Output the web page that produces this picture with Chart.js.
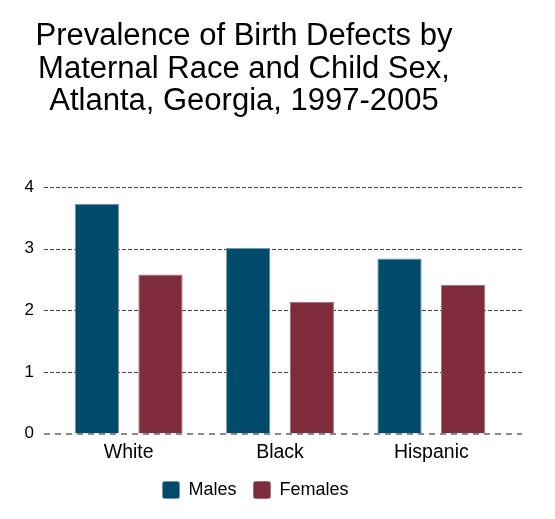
<!DOCTYPE html>
<html>
<head>
<meta charset="utf-8">
<script src="https://cdn.jsdelivr.net/npm/chart.js@4/dist/chart.umd.min.js"></script>
<style>
  html, body { margin:0; padding:0; background:#fff; }
  #wrap { position:relative; width:555px; height:519px; }
  #title {
    position:absolute; left:0; top:19px; width:488px;
    text-align:center; font:31px/32.5px "Liberation Sans", Arial, sans-serif; color:#000;
  }
  canvas { position:absolute; left:0; top:0; }
</style>
</head>
<body>
<div id="wrap">
  <canvas id="chart" width="555" height="519"></canvas>
  <div id="title">Prevalence of Birth Defects by<br>Maternal Race and Child Sex,<br>Atlanta, Georgia, 1997-2005</div>
</div>
<script>
/* data */
const categories = ["White", "Black", "Hispanic"];
const males      = [3.73, 3.01, 2.84];
const females    = [2.58, 2.14, 2.41];
const yTicks     = [0, 1, 2, 3, 4];

const FONT = "'Liberation Sans', Arial, sans-serif";

/* dashed gridlines wider than the plot area, zero line on top of bars */
const gridPlugin = {
  id: "dashGrid",
  afterLayout(chart){
    // nudge the legend up/right a little, closer to the x labels
    const lg = chart.legend;
    lg.top -= 7; lg.bottom -= 7;
    lg.left += 2; lg.right += 2;
  },
  beforeDatasetsDraw(chart){
    const {ctx} = chart, y = chart.scales.y;
    ctx.save();
    ctx.strokeStyle = "#444";
    ctx.lineWidth = 1;
    ctx.setLineDash([4, 2]);
    yTicks.forEach(v => {
      if (v === 0) return;
      const py = Math.round(y.getPixelForValue(v)) + 0.5;
      ctx.beginPath(); ctx.moveTo(44, py); ctx.lineTo(522, py); ctx.stroke();
    });
    ctx.restore();
  },
  afterDatasetsDraw(chart){
    const {ctx} = chart, y = chart.scales.y;
    ctx.save();
    ctx.strokeStyle = "#8a8a8a";
    ctx.lineWidth = 2;
    ctx.setLineDash([6, 5]);
    const py = Math.round(y.getPixelForValue(0));
    ctx.beginPath(); ctx.moveTo(44, py); ctx.lineTo(522, py); ctx.stroke();
    ctx.restore();
  }
};

new Chart(document.getElementById("chart"), {
  type: "bar",
  data: {
    labels: categories,
    datasets: [
      { label: "Males", data: males, backgroundColor: "#004A6B", borderColor: "#6f97ad", borderWidth: 1,
        categoryPercentage: 0.841, barPercentage: 0.696 },
      { label: "Females", data: females, backgroundColor: "#7E2B3B", borderColor: "#a8707b", borderWidth: 1,
        categoryPercentage: 0.841, barPercentage: 0.696 }
    ]
  },
  options: {
    responsive: false,
    animation: false,
    layout: { padding: { top: 187, right: 48, bottom: 3, left: 0 } },
    plugins: {
      title: { display: false },
      tooltip: { enabled: false },
      legend: {
        position: "bottom",
        labels: {
          boxWidth: 17, boxHeight: 17, padding: 17,
          useBorderRadius: true, borderRadius: 2,
          color: "#000", font: { family: FONT, size: 18 }
        }
      }
    },
    scales: {
      x: {
        grid: { display: false, drawTicks: false },
        border: { display: false },
        ticks: { color: "#000", padding: 7, font: { family: FONT, size: 19.5 } }
      },
      y: {
        min: 0, max: 4,
        afterFit(s){ s.width = 53; },
        afterBuildTicks(s){ s.ticks = yTicks.map(v => ({ value: v })); },
        grid: { display: false, drawTicks: false },
        border: { display: false },
        ticks: { color: "#000", padding: 19, font: { family: FONT, size: 17 } }
      }
    }
  },
  plugins: [gridPlugin]
});
</script>
</body>
</html>
